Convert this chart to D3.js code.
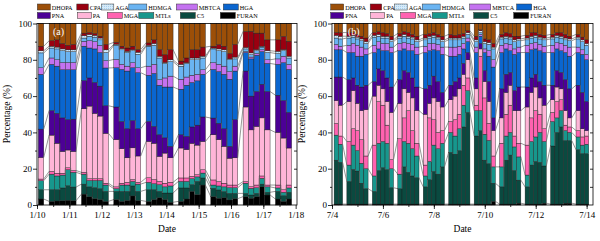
<!DOCTYPE html>
<html>
<head>
<meta charset="utf-8">
<script src="https://cdn.jsdelivr.net/npm/d3@7"></script>
<style>
  body { margin: 0; background: #fff; }
  svg { display: block; font-family: "Liberation Serif", "Times New Roman", serif; }
</style>
</head>
<body>
<div id="chart"></div>
<script>
// stacking order, bottom to top
const species = ["FURAN", "C5", "MTLs", "MGA", "PA", "PNA", "HGA", "MBTCA", "HDMGA", "AGA", "CPA", "DHOPA"];

const legendRows = [
    ["DHOPA", "CPA", "AGA", "HDMGA", "MBTCA", "HGA"],
    ["PNA", "PA", "MGA", "MTLs", "C5", "FURAN"]
];

const ticksA = ["1/10", "1/11", "1/12", "1/13", "1/14", "1/15", "1/16", "1/17", "1/18"];
const ticksB = ["7/4", "7/6", "7/8", "7/10", "7/12", "7/14"];

// 4-hour sampling slots that have data (counted from the first tick)
const slotsA = [0, 2, 3, 4, 5, 6, 8, 9, 10, 11, 12, 14, 15, 16, 17, 18, 20, 21, 22, 23, 24,
    26, 27, 28, 29, 30, 32, 33, 34, 35, 36, 38, 39, 40, 41, 42, 44, 45, 46];
const slotsB = [0, 1, 3, 4, 5, 6, 7, 9, 10, 11, 12, 13, 15, 16, 17, 18, 19, 21, 22, 23, 24, 25,
    27, 28, 29, 30, 31, 33, 34, 35, 36, 37, 39, 40, 41, 42, 43, 45, 46, 47, 48, 49,
    51, 52, 53, 54, 55, 57, 58, 59];

// percentages per sample, columns in the order of `species`
const valuesA = [
    [3.3, 5.1, 5.0, 0.9, 11.9, 15.6, 30.2, 3.6, 8.2, 1.2, 2.5, 12.5],
    [2.0, 6.4, 8.6, 1.5, 20.0, 13.5, 25.5, 3.5, 5.5, 1.0, 3.0, 9.5],
    [2.2, 6.2, 7.6, 1.5, 16.5, 16.5, 26.0, 3.5, 6.0, 1.0, 4.0, 9.0],
    [2.4, 7.0, 7.1, 1.0, 12.0, 18.5, 26.5, 4.0, 6.5, 1.0, 3.0, 11.0],
    [2.6, 8.0, 8.8, 1.1, 9.8, 16.7, 27.5, 4.0, 6.0, 1.0, 2.5, 12.0],
    [2.4, 7.5, 8.1, 1.0, 10.5, 17.8, 27.2, 4.0, 6.0, 1.0, 3.0, 11.5],
    [6.0, 5.5, 5.5, 1.0, 35.0, 15.5, 19.0, 2.7, 1.8, 1.3, 1.4, 5.3],
    [4.5, 5.5, 3.5, 1.0, 40.0, 15.5, 16.5, 4.0, 2.5, 1.0, 1.0, 5.0],
    [3.5, 6.0, 4.0, 1.0, 36.0, 17.0, 18.5, 4.0, 2.5, 1.0, 1.0, 5.5],
    [3.0, 6.0, 4.5, 1.0, 34.5, 16.5, 18.5, 4.0, 3.0, 1.0, 1.0, 7.0],
    [2.0, 5.5, 3.5, 1.0, 27.5, 15.2, 20.8, 4.0, 4.5, 1.5, 3.0, 11.5],
    [3.0, 4.5, 1.5, 1.0, 26.0, 18.0, 21.6, 4.6, 7.8, 0.6, 1.0, 10.4],
    [2.0, 5.5, 3.5, 1.0, 19.0, 15.0, 28.7, 2.8, 8.0, 0.7, 1.3, 12.5],
    [2.5, 5.0, 3.5, 1.5, 13.5, 16.0, 31.8, 2.7, 7.5, 0.7, 1.8, 13.5],
    [5.0, 5.5, 2.5, 1.0, 17.5, 15.0, 29.1, 2.8, 6.6, 0.6, 1.9, 12.5],
    [2.5, 5.0, 4.0, 1.0, 14.5, 15.0, 30.9, 2.7, 7.4, 1.2, 1.4, 14.4],
    [2.0, 6.4, 4.1, 2.5, 20.0, 11.0, 25.5, 5.0, 11.0, 0.5, 1.3, 10.7],
    [3.0, 5.4, 3.3, 2.3, 20.0, 9.3, 29.2, 5.0, 10.5, 1.0, 2.0, 9.0],
    [4.0, 3.5, 3.7, 1.8, 13.8, 11.9, 27.3, 3.0, 12.0, 1.0, 3.6, 14.4],
    [3.0, 3.6, 3.4, 2.0, 16.6, 8.4, 28.0, 5.0, 8.0, 0.5, 4.4, 17.1],
    [1.5, 5.1, 3.9, 2.0, 13.5, 6.3, 32.7, 6.0, 8.0, 1.0, 5.6, 14.4],
    [2.0, 7.4, 3.6, 1.9, 16.5, 7.3, 25.1, 5.5, 7.2, 1.0, 1.8, 20.7],
    [3.3, 6.1, 3.6, 1.9, 15.6, 7.3, 28.2, 4.5, 7.5, 0.4, 2.6, 19.0],
    [7.5, 3.7, 3.3, 1.3, 18.2, 9.0, 24.5, 4.0, 8.5, 1.0, 4.6, 14.4],
    [5.7, 7.3, 2.5, 1.2, 16.3, 11.0, 24.4, 3.6, 8.0, 1.0, 4.6, 14.4],
    [11.0, 3.9, 2.7, 1.8, 15.6, 13.5, 23.5, 2.5, 6.5, 1.0, 5.0, 13.0],
    [4.6, 4.6, 1.8, 2.8, 24.9, 9.2, 26.8, 3.7, 7.6, 0.5, 1.0, 12.5],
    [3.7, 4.6, 2.2, 2.4, 23.1, 9.0, 28.5, 4.0, 7.5, 1.0, 2.4, 11.6],
    [4.0, 3.4, 2.6, 2.0, 20.3, 9.7, 30.0, 4.5, 8.0, 1.0, 2.0, 12.5],
    [2.8, 3.6, 3.1, 1.5, 14.8, 6.5, 37.0, 4.2, 6.5, 0.5, 3.0, 16.5],
    [3.5, 2.9, 3.1, 1.5, 15.0, 21.0, 26.8, 2.7, 4.0, 1.0, 7.0, 11.5],
    [4.6, 1.8, 5.6, 0.9, 41.1, 19.8, 10.2, 0.5, 1.5, 0.8, 8.8, 4.4],
    [3.7, 1.8, 3.7, 0.9, 31.3, 18.6, 20.5, 1.0, 1.3, 1.0, 11.9, 4.3],
    [4.6, 1.8, 3.1, 1.5, 32.3, 19.2, 20.0, 1.0, 1.5, 0.6, 9.1, 5.3],
    [10.0, 1.5, 3.2, 1.3, 32.0, 18.5, 18.0, 1.0, 1.5, 0.5, 7.2, 5.3],
    [5.5, 1.5, 3.0, 1.0, 30.4, 21.1, 15.5, 2.0, 4.0, 1.0, 6.0, 9.0],
    [3.3, 4.2, 1.9, 1.6, 29.0, 20.5, 17.0, 3.0, 3.0, 1.2, 6.3, 9.0],
    [2.0, 3.1, 1.9, 1.4, 28.5, 20.6, 20.9, 3.6, 3.0, 0.6, 7.3, 7.1],
    [3.3, 3.7, 2.4, 1.6, 20.4, 19.6, 23.7, 2.8, 3.5, 1.0, 8.2, 9.8]
];

const valuesB = [
    [0.5, 24.2, 13.8, 6.4, 12.6, 13.0, 15.0, 3.0, 3.5, 1.5, 1.5, 5.0],
    [0.5, 23.0, 10.0, 4.5, 17.0, 15.5, 15.0, 2.0, 4.0, 1.5, 2.0, 5.0],
    [0.5, 12.5, 9.0, 13.0, 22.0, 12.0, 15.0, 4.0, 4.0, 1.0, 2.0, 5.0],
    [0.5, 19.1, 13.4, 9.0, 21.0, 7.0, 14.0, 5.0, 3.5, 1.0, 1.5, 5.0],
    [0.5, 18.2, 11.3, 11.0, 15.0, 10.0, 16.0, 6.0, 3.5, 1.0, 1.5, 6.0],
    [0.5, 11.5, 11.0, 13.0, 16.0, 13.0, 17.0, 5.0, 3.5, 1.0, 1.5, 7.0],
    [0.5, 8.5, 11.0, 7.0, 25.5, 13.5, 17.0, 3.0, 3.0, 1.0, 2.0, 8.0],
    [0.5, 7.0, 8.5, 17.0, 27.0, 8.0, 16.0, 4.0, 4.5, 1.0, 1.5, 5.0],
    [0.5, 18.5, 15.0, 23.0, 9.0, 9.0, 11.0, 4.0, 3.0, 1.0, 1.5, 4.5],
    [0.5, 20.0, 14.5, 20.0, 9.0, 10.0, 11.0, 4.0, 3.0, 1.0, 2.0, 5.0],
    [0.5, 19.0, 14.5, 10.0, 13.0, 13.0, 15.0, 4.0, 3.0, 1.0, 1.5, 5.5],
    [0.5, 9.0, 10.5, 5.0, 26.0, 14.0, 19.0, 3.0, 3.0, 1.0, 2.0, 7.0],
    [0.5, 8.5, 8.0, 19.5, 19.5, 13.0, 16.0, 4.0, 3.0, 1.0, 1.5, 5.5],
    [0.5, 20.5, 14.0, 13.0, 16.0, 10.0, 12.0, 3.5, 3.5, 1.0, 1.5, 4.5],
    [0.5, 17.5, 16.0, 18.0, 10.0, 11.0, 12.0, 4.0, 3.0, 1.0, 2.0, 5.0],
    [0.5, 15.5, 15.0, 10.0, 18.0, 11.0, 15.0, 3.5, 3.0, 1.0, 1.5, 6.0],
    [0.5, 14.5, 12.0, 7.0, 18.0, 13.0, 18.0, 4.0, 3.0, 1.0, 2.0, 7.0],
    [0.5, 9.5, 6.0, 6.0, 28.0, 14.0, 20.0, 3.5, 3.5, 1.0, 2.0, 6.0],
    [0.5, 13.5, 10.0, 24.0, 8.0, 10.0, 19.0, 4.0, 3.0, 1.0, 1.5, 5.5],
    [0.5, 18.0, 14.5, 14.0, 12.0, 12.0, 14.5, 3.5, 3.5, 1.0, 1.5, 5.0],
    [0.5, 16.5, 14.0, 9.0, 17.0, 11.0, 17.0, 3.5, 3.0, 1.0, 1.5, 6.0],
    [0.5, 20.5, 13.0, 7.0, 13.0, 8.0, 21.0, 4.0, 3.0, 1.0, 2.0, 7.0],
    [0.5, 28.5, 11.0, 6.0, 12.0, 8.0, 16.0, 5.0, 4.0, 1.0, 2.0, 6.0],
    [0.5, 27.5, 10.0, 9.0, 13.0, 8.0, 14.0, 5.0, 4.0, 1.0, 1.5, 6.5],
    [0.5, 29.5, 12.0, 8.0, 14.0, 6.0, 13.0, 4.5, 3.5, 1.0, 2.0, 6.0],
    [0.5, 42.5, 12.0, 11.0, 6.0, 6.0, 8.0, 3.0, 3.0, 1.0, 1.5, 5.5],
    [0.5, 50.5, 12.0, 7.0, 10.0, 4.0, 6.0, 2.0, 2.0, 1.0, 1.0, 4.0],
    [0.5, 37.5, 14.0, 3.0, 9.0, 6.0, 14.0, 3.0, 3.0, 1.0, 2.0, 7.0],
    [0.5, 40.5, 11.0, 30.0, 4.0, 3.0, 4.0, 1.0, 1.0, 1.0, 0.5, 3.5],
    [0.5, 24.2, 14.3, 20.0, 9.0, 6.0, 10.0, 2.0, 3.0, 1.0, 1.5, 8.5],
    [0.5, 22.3, 12.8, 9.4, 12.0, 11.0, 14.0, 3.0, 3.5, 1.0, 1.5, 9.0],
    [2.0, 10.0, 9.0, 6.0, 14.0, 7.0, 28.0, 4.0, 6.0, 1.0, 2.0, 11.0],
    [0.5, 9.5, 11.0, 13.0, 14.0, 16.0, 20.0, 4.0, 3.5, 1.0, 1.5, 6.0],
    [0.5, 24.2, 13.3, 12.0, 12.0, 10.0, 14.0, 3.0, 3.0, 1.0, 2.0, 5.0],
    [0.5, 27.0, 12.5, 15.0, 11.0, 7.0, 12.0, 3.5, 3.0, 1.0, 2.0, 5.5],
    [0.5, 18.5, 13.0, 6.0, 14.0, 11.0, 20.0, 3.0, 4.0, 1.0, 2.0, 7.0],
    [1.0, 12.7, 12.8, 7.5, 18.0, 13.0, 19.0, 3.0, 3.5, 1.0, 1.5, 7.0],
    [0.5, 9.5, 6.5, 16.5, 21.0, 11.0, 19.0, 4.0, 3.0, 1.0, 1.5, 6.5],
    [0.5, 21.5, 13.0, 13.0, 14.0, 8.0, 15.5, 3.5, 3.0, 1.0, 2.0, 5.0],
    [0.5, 23.5, 13.5, 14.5, 13.0, 7.0, 14.0, 3.5, 3.0, 1.0, 1.5, 5.0],
    [0.5, 23.0, 16.5, 10.0, 9.0, 9.0, 17.0, 3.5, 3.0, 1.0, 1.5, 6.0],
    [1.0, 20.5, 13.5, 7.0, 13.0, 11.0, 18.0, 3.5, 3.5, 1.0, 1.5, 6.5],
    [0.5, 32.0, 13.5, 5.0, 7.0, 8.0, 18.0, 4.0, 3.5, 1.0, 1.5, 6.0],
    [0.5, 39.5, 8.0, 9.0, 8.0, 9.0, 12.0, 3.5, 3.0, 1.0, 1.5, 5.0],
    [0.5, 42.5, 9.0, 6.0, 6.0, 9.0, 12.0, 4.0, 3.0, 1.0, 2.0, 5.0],
    [1.0, 34.5, 5.5, 3.0, 8.0, 17.0, 15.0, 4.0, 3.0, 1.0, 2.0, 6.0],
    [1.0, 34.5, 4.5, 3.0, 5.0, 16.0, 18.0, 5.0, 3.5, 1.0, 1.5, 7.0],
    [0.5, 30.0, 7.0, 3.5, 11.0, 14.0, 18.0, 3.0, 4.5, 1.0, 1.5, 6.0],
    [0.5, 27.8, 4.7, 4.5, 4.5, 20.0, 21.0, 2.5, 4.5, 1.0, 1.5, 7.5],
    [0.5, 27.8, 5.2, 4.5, 3.0, 16.0, 23.0, 3.0, 5.0, 1.0, 2.0, 9.0]
];

const colors = {
    DHOPA: "#9c4f08", CPA: "#9a0010", AGA: "url(#agaDots)", HDMGA: "#6ab4f2",
    MBTCA: "#c472f0", HGA: "#0a66d0", PNA: "#4c0096", PA: "#ffb5d8",
    MGA: "#ff62b0", MTLs: "#17978d", C5: "#0a4a40", FURAN: "#000000"
};

const W = 600, H = 241;
const svg = d3.select("#chart").append("svg").attr("width", W).attr("height", H);

// AGA is drawn with a dotted light-blue fill
const pat = svg.append("defs").append("pattern")
    .attr("id", "agaDots").attr("patternUnits", "userSpaceOnUse")
    .attr("width", 2).attr("height", 2);
pat.append("rect").attr("width", 2).attr("height", 2).attr("fill", "#d6ebf9");
pat.append("rect").attr("width", 1).attr("height", 1).attr("fill", "#a9cfee");

const y = d3.scaleLinear().domain([0, 1]).range([205, 23.5]);
const parseTick = (s, yr) => d3.timeParse("%m/%d/%Y")(s + "/" + yr);

// legend layout, offsets from the legend's left edge: [x, swatch width]
const legendPos = [
    [[0, 13], [39.5, 11.5], [64, 12.5], [91.5, 18], [139, 21], [186, 15]],
    [[0, 13], [40, 14], [70, 15], [101.5, 15], [143, 15], [183, 15]]
];

function drawPanel(opt) {
    const x = d3.scaleTime().domain(opt.domain).range([opt.left, opt.right]);
    const g = svg.append("g");

    const rows = opt.values.map((v, i) => {
        let r = {t: d3.timeHour.offset(opt.domain[0], opt.slots[i] * 4 + opt.shift)};
        species.forEach((s, j) => r[s] = v[j]);
        return r;
    });

    const series = d3.stack().keys(species).offset(d3.stackOffsetExpand)(rows);
    const x0 = d => x(d.data.t);
    const x1 = d => x(d3.timeHour.offset(d.data.t, 4));

    g.selectAll("g.layer")
        .data(series)
        .enter().append("g")
        .attr("class", "layer")
        .attr("fill", d => colors[d.key])
        .selectAll("rect")
        .data(d => d)
        .enter().append("rect")
        .attr("x", x0)
        .attr("width", d => x1(d) - x0(d))
        .attr("y", d => y(d[1]))
        .attr("height", d => y(d[0]) - y(d[1]))
        .attr("stroke", "#1a1a1a")
        .attr("stroke-width", 0.4);

    // connecting lines between neighbouring columns
    series.slice(0, -1).forEach(s => {
        for (let i = 0; i < s.length - 1; i++) {
            g.append("line")
                .attr("x1", x1(s[i])).attr("y1", y(s[i][1]))
                .attr("x2", x0(s[i + 1])).attr("y2", y(s[i + 1][1]))
                .attr("stroke", "#6a6a6a")
                .attr("stroke-width", 0.7);
        }
    });

    // frame
    g.append("rect")
        .attr("x", opt.left).attr("y", y(1))
        .attr("width", opt.right - opt.left).attr("height", y(0) - y(1))
        .attr("fill", "none").attr("stroke", "#000").attr("stroke-width", 0.8);

    // y axis, left
    const yl = g.append("g").attr("transform", "translate(" + opt.left + ",0)")
        .call(d3.axisLeft(y).tickValues(d3.range(0, 1.01, 0.2)).tickSize(4)
            .tickFormat(d => Math.round(d * 100)));
    g.append("g").attr("transform", "translate(" + opt.left + ",0)")
        .call(d3.axisLeft(y).tickValues(d3.range(0.1, 1, 0.2)).tickSize(2).tickFormat(""));
    // y axis, right (inward ticks)
    g.append("g").attr("transform", "translate(" + opt.right + ",0)")
        .call(d3.axisLeft(y).tickValues(d3.range(0.1, 1, 0.1)).tickSize(3).tickFormat(""));

    // x axis
    const tickDates = opt.ticks.map(s => parseTick(s, opt.year));
    g.append("g").attr("transform", "translate(0,205)")
        .call(d3.axisBottom(x).tickValues(tickDates).tickSize(4)
            .tickFormat((d, i) => opt.ticks[i]));
    g.append("g").attr("transform", "translate(0,205)")
        .call(d3.axisBottom(x).tickValues(opt.minor).tickSize(2).tickFormat(""));

    g.selectAll(".domain").attr("stroke", "none");
    g.selectAll(".tick line").attr("stroke", "#000").attr("stroke-width", 0.8);
    g.selectAll(".tick text").attr("font-size", 9).attr("fill", "#000")
        .attr("font-family", "Liberation Serif, serif");
    yl.selectAll(".tick text").attr("x", -5);

    // axis titles
    g.append("text")
        .attr("transform", "translate(" + (opt.left - 27) + ",114) rotate(-90)")
        .attr("text-anchor", "middle").attr("font-size", 9.5)
        .text("Percentage (%)");
    g.append("text")
        .attr("x", (opt.left + opt.right) / 2).attr("y", 232)
        .attr("text-anchor", "middle").attr("font-size", 9.5)
        .text("Date");

    // panel tag
    g.append("text")
        .attr("x", opt.left + 16).attr("y", 34.5)
        .attr("font-size", 10).attr("fill", "#fff")
        .text(opt.tag);

    // legend: swatches first, labels on top
    const leg = g.append("g");
    legendRows.forEach((row, r) => {
        row.forEach((name, c) => {
            const p = legendPos[r][c];
            leg.append("rect")
                .attr("x", opt.legendLeft + p[0]).attr("y", 4 + r * 8.5)
                .attr("width", p[1]).attr("height", 6)
                .attr("fill", colors[name]).attr("stroke", "#333").attr("stroke-width", 0.5);
        });
    });
    legendRows.forEach((row, r) => {
        row.forEach((name, c) => {
            const p = legendPos[r][c];
            leg.append("text")
                .attr("x", opt.legendLeft + p[0] + p[1] + 1.5).attr("y", 9.8 + r * 8.5)
                .attr("font-size", 6.2)
                .text(name);
        });
    });
}

drawPanel({
    left: 37, right: 297, legendLeft: 37.3, tag: "(a)", year: 2018,
    domain: [parseTick("1/10", 2018), d3.timeHour.offset(parseTick("1/18", 2018), 1)],
    shift: 1, slots: slotsA, values: valuesA, ticks: ticksA,
    minor: d3.timeHour.every(12).range(parseTick("1/10", 2018), parseTick("1/18", 2018))
});

drawPanel({
    left: 332, right: 593, legendLeft: 330.7, tag: "(b)", year: 2018,
    domain: [parseTick("7/4", 2018), d3.timeHour.offset(parseTick("7/14", 2018), 6)],
    shift: 2, slots: slotsB, values: valuesB, ticks: ticksB,
    minor: d3.timeDay.range(parseTick("7/4", 2018), parseTick("7/15", 2018))
});
</script>
</body>
</html>
